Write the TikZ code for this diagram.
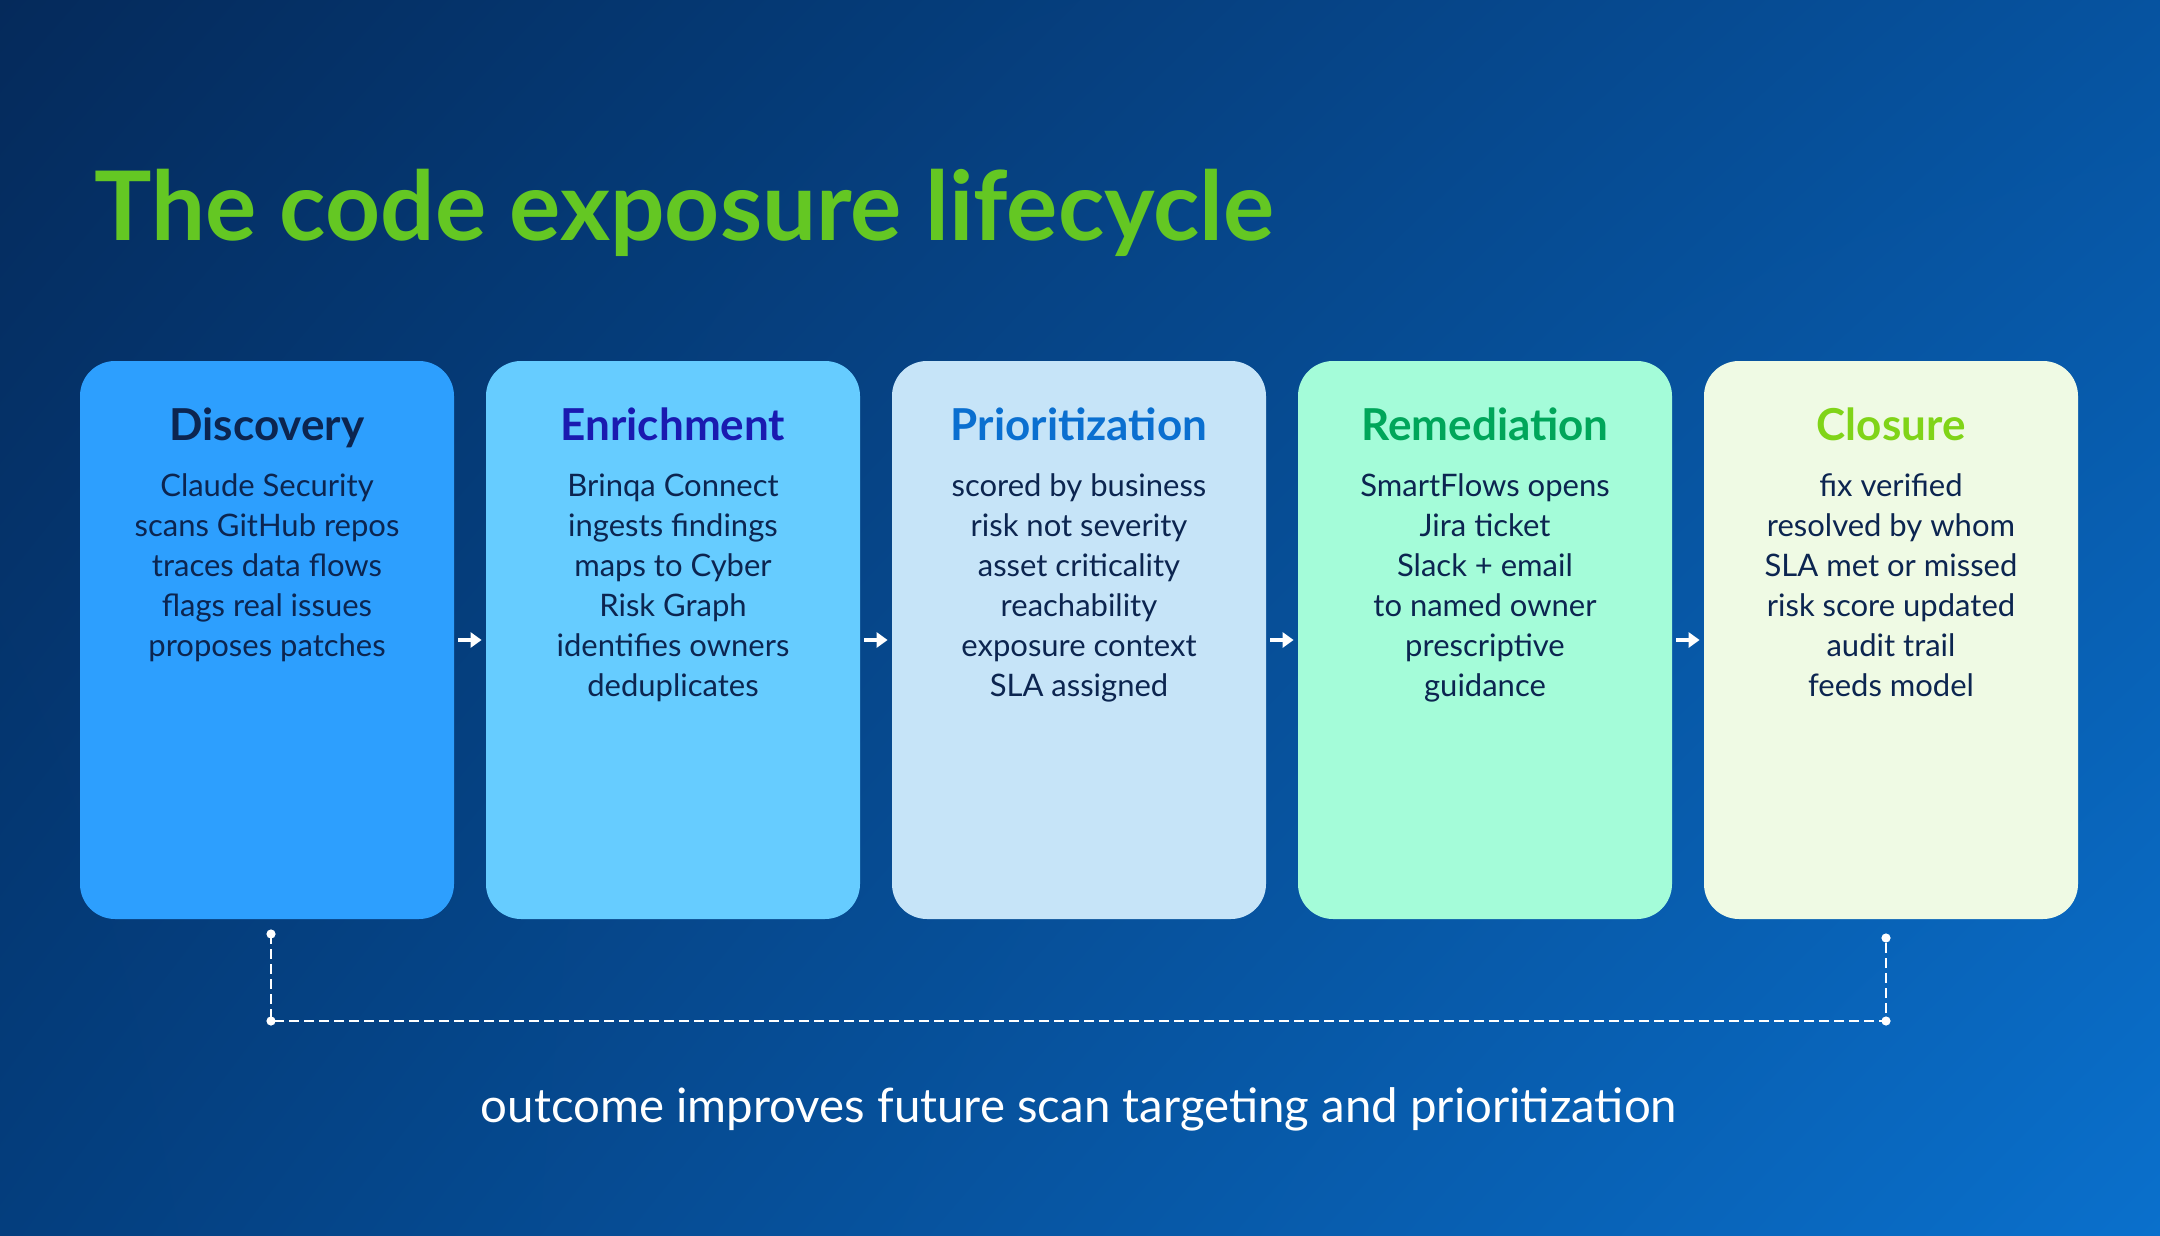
\documentclass[tikz,border=0pt]{standalone}
\usepackage{fontspec}
\setmainfont{Lato}
\usetikzlibrary{arrows.meta,shadings}
\definecolor{bgUL}{HTML}{052A5B}
\definecolor{bgUR}{HTML}{0653A0}
\definecolor{bgLL}{HTML}{043E7E}
\definecolor{bgLR}{HTML}{0A70CC}
\definecolor{titlegreen}{HTML}{64C723}
\definecolor{bodynavy}{HTML}{0C2550}
\definecolor{fillA}{HTML}{2D9FFE}
\definecolor{fillB}{HTML}{66CCFF}
\definecolor{fillC}{HTML}{C6E4F8}
\definecolor{fillD}{HTML}{A4FCD9}
\definecolor{fillE}{HTML}{EFFAE4}
\definecolor{headA}{HTML}{0C2550}
\definecolor{headB}{HTML}{1A1AB0}
\definecolor{headC}{HTML}{0A6FD0}
\definecolor{headD}{HTML}{00A65A}
\definecolor{headE}{HTML}{80D418}
\tikzset{
  stagebox/.style={rounded corners=17.5pt, minimum width=187pt, minimum height=279pt, inner sep=0pt},
  stagehead/.style={font=\fontsize{22}{26}\selectfont\bfseries, anchor=base, inner sep=0pt},
  stagebody/.style={font=\fontsize{15.5}{20}\selectfont, text=bodynavy, align=center, anchor=base, inner sep=0pt},
  flowarrow/.style={draw=white, line width=2pt, -{Triangle[length=5.5pt,width=7.5pt]}},
  loopline/.style={draw=white, line width=1pt, dash pattern=on 5pt off 2.5pt},
  loopdot/.style={fill=white}
}
\begin{document}
\begin{tikzpicture}[x=0.5pt,y=-0.5pt]
\useasboundingbox (0,0) rectangle (2160,1236);
\shade[upper left=bgUL, upper right=bgUR, lower left=bgLL, lower right=bgLR] (0,0) rectangle (2160,1236);

\node[anchor=base west, text=titlegreen, font=\fontsize{48}{56}\selectfont\bfseries, inner sep=0pt] (title) at (94,241) {The code exposure lifecycle};

\node[stagebox, fill=fillA] (b1) at (267,640) {};
\node[stagebox, fill=fillB] (b2) at (673,640) {};
\node[stagebox, fill=fillC] (b3) at (1079,640) {};
\node[stagebox, fill=fillD] (b4) at (1485,640) {};
\node[stagebox, fill=fillE] (b5) at (1891,640) {};

\node[stagehead, text=headA] (h1) at (267,440) {Discovery};
\node[stagehead, text=headB] (h2) at (673,440) {Enrichment};
\node[stagehead, text=headC] (h3) at (1079,440) {Prioritization};
\node[stagehead, text=headD] (h4) at (1485,440) {Remediation};
\node[stagehead, text=headE] (h5) at (1891,440) {Closure};

% base anchor = baseline of the last line; first baseline at 496, 40 per line
\node[stagebody] (t1) at (267,656) {Claude Security\\scans GitHub repos\\traces data flows\\flags real issues\\proposes patches};
\node[stagebody] (t2) at (673,696) {Brinqa Connect\\ingests findings\\maps to Cyber\\Risk Graph\\identifies owners\\deduplicates};
\node[stagebody] (t3) at (1079,696) {scored by business\\risk not severity\\asset criticality\\reachability\\exposure context\\SLA assigned};
\node[stagebody] (t4) at (1485,696) {SmartFlows opens\\Jira ticket\\Slack + email\\to named owner\\prescriptive\\guidance};
\node[stagebody] (t5) at (1891,696) {fix verified\\resolved by whom\\SLA met or missed\\risk score updated\\audit trail\\feeds model};

\draw[flowarrow] ([xshift=2pt]b1.east) -- ([xshift=-2pt]b2.west);
\draw[flowarrow] ([xshift=2pt]b2.east) -- ([xshift=-2pt]b3.west);
\draw[flowarrow] ([xshift=2pt]b3.east) -- ([xshift=-2pt]b4.west);
\draw[flowarrow] ([xshift=2pt]b4.east) -- ([xshift=-2pt]b5.west);

\coordinate (la) at (271,934);
\coordinate (lb) at (271,1021);
\coordinate (rb) at (1886,1021);
\coordinate (ra) at (1886,938);
\draw[loopline] (la) -- (lb) -- (rb) -- (ra);
\fill[loopdot] (la) circle (2.3pt);
\fill[loopdot] (lb) circle (2.3pt);
\fill[loopdot] (rb) circle (2.3pt);
\fill[loopdot] (ra) circle (2.3pt);

\node[text=white, font=\fontsize{23.7}{28}\selectfont, inner sep=0pt] (foot) at (1079,1109) {outcome improves future scan targeting and prioritization};
\end{tikzpicture}
\end{document}
